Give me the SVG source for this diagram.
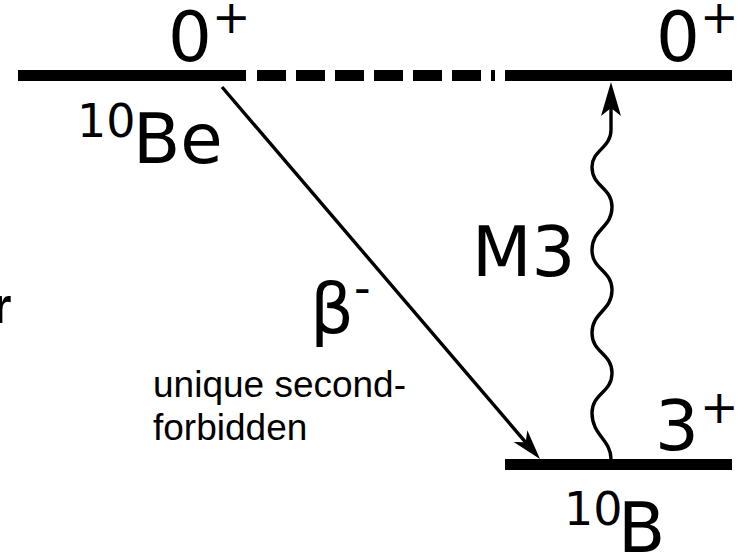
<svg xmlns="http://www.w3.org/2000/svg" width="748" height="554" viewBox="0 0 748 554">
<style>
  .lvl { fill: #000; }
  .big { font-family: "DejaVu Sans", Verdana, sans-serif; font-size: 69px; fill: #000; }
  .sup { font-family: "DejaVu Sans", Verdana, sans-serif; font-size: 46px; fill: #000; }
  .note { font-family: "Liberation Sans", Arial, sans-serif; font-size: 37px; fill: #000; }
  .bold { font-family: "Liberation Sans", Arial, sans-serif; font-size: 50px; font-weight: 700; fill: #000; }
  .conn { fill: none; stroke: #000; stroke-width: 3.4; }
</style>
<defs>
  <marker id="stealth" markerUnits="userSpaceOnUse" viewBox="-12 -11 34 22" markerWidth="34" markerHeight="22" refX="0" refY="0" orient="auto">
    <path d="M20,0 L-10,-9 L-2,0 L-10,9 Z" fill="#000"/>
  </marker>
  <marker id="stealth2" markerUnits="userSpaceOnUse" viewBox="-12 -11 44 22" markerWidth="44" markerHeight="22" refX="0" refY="0" orient="auto">
    <path d="M26,0 L-8,-10 L0,0 L-8,10 Z" fill="#000"/>
  </marker>
</defs>
<rect width="748" height="554" fill="#fff"/>

<g id="be10-ground">
  <rect class="lvl" x="18" y="70" width="228" height="11"/>
  <text class="big" x="168" y="61">0</text>
  <text class="sup" x="212" y="33">+</text>
  <text class="sup" x="77" y="137">10</text>
  <text class="big" x="133" y="163">Be</text>
</g>

<g id="level-link">
  <line x1="257" y1="75.5" x2="495" y2="75.5" stroke="#000" stroke-width="11" stroke-dasharray="29 10"/>
</g>

<g id="b10-excited">
  <rect class="lvl" x="505" y="70" width="227" height="11"/>
  <text class="big" x="656" y="61">0</text>
  <text class="sup" x="700" y="33">+</text>
</g>

<g id="b10-ground">
  <rect class="lvl" x="505" y="459" width="227" height="11"/>
  <text class="big" x="655" y="450">3</text>
  <text class="sup" x="700" y="423">+</text>
  <text class="sup" x="564" y="525">10</text>
  <text class="big" x="618" y="552">B</text>
</g>

<g id="connectors">
  <line class="conn" x1="222" y1="87" x2="527" y2="443.8" marker-end="url(#stealth)"/>
  <path class="conn" d="M611,459 C611,440 592,435 592,413 C592,393 612,393 612,373 C612,353 592,353 592,333 C592,312 612,311 612,290 C612,270 592,270 592,250 C592,229 612,228 612,207 C612,187 592,187 592,167 C592,150 611,148 611,130 L611,108" marker-end="url(#stealth2)"/>
</g>

<g id="labels">
  <text class="big" x="310" y="333">β</text>
  <text class="sup" x="354" y="304">-</text>
  <text class="note" x="153" y="397">unique second-</text>
  <text class="note" x="153" y="440">forbidden</text>
  <text class="big" x="472" y="276">M3</text>
  <text class="bold" x="-8" y="323" font-weight="bold">r</text>
</g>
</svg>
